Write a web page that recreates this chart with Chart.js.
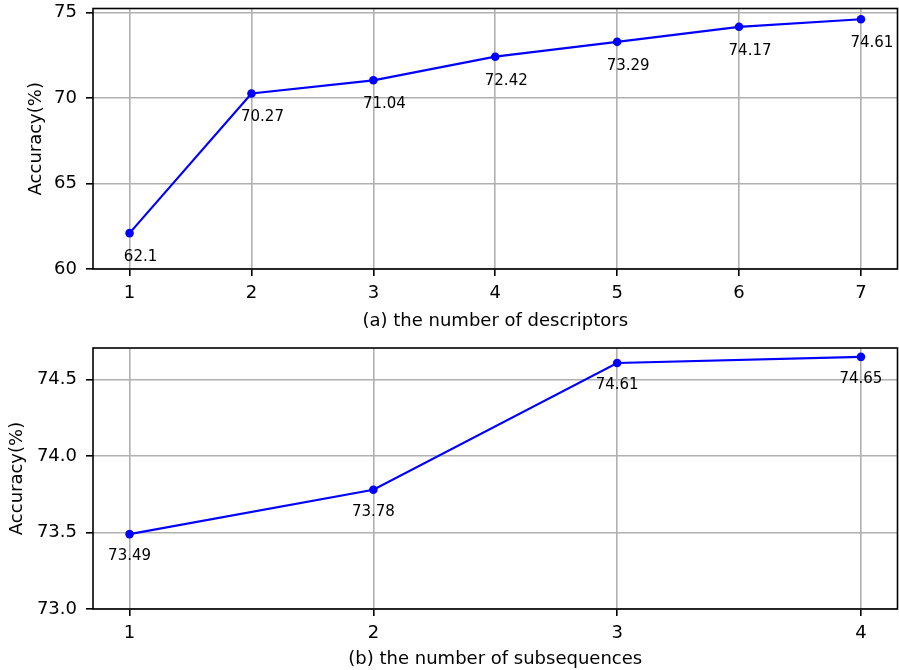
<!DOCTYPE html>
<html>
<head>
<meta charset="utf-8">
<script src="https://cdn.jsdelivr.net/npm/chart.js@4.4.1/dist/chart.umd.min.js"></script>
<style>
  html, body { margin: 0; padding: 0; background: #fff; }
  .box { position: absolute; left: 0; width: 899px; height: 335px; }
</style>
</head>
<body>
<div class="box" style="top:0"><canvas id="chart-desc" width="899" height="335"></canvas></div>
<div class="box" style="top:335px"><canvas id="chart-subseq" width="899" height="335"></canvas></div>
<script>
// (a) descriptors
const descX = [1, 2, 3, 4, 5, 6, 7];
const descAcc = [62.1, 70.27, 71.04, 72.42, 73.29, 74.17, 74.61];
const descYTicks = [60, 65, 70, 75];

// (b) subsequences
const subX = [1, 2, 3, 4];
const subAcc = [73.49, 73.78, 74.61, 74.65];
const subYTicks = [73.0, 73.5, 74.0, 74.5];

const FONT = 'DejaVu Sans';

// draws the full axes box like matplotlib
const boxPlugin = {
    id: 'box',
    afterDraw(chart) {
        const { ctx, chartArea: a } = chart;
        ctx.save();
        ctx.strokeStyle = '#000';
        ctx.lineWidth = 1.6;
        ctx.strokeRect(a.left, a.top, a.right - a.left, a.bottom - a.top);
        ctx.restore();
    }
};

// value labels under each point
const valueLabels = {
    id: 'valueLabels',
    afterDatasetsDraw(chart, args, opts) {
        const { ctx } = chart;
        const xs = chart.scales.x, ys = chart.scales.y;
        ctx.save();
        ctx.font = '15px "' + FONT + '"';
        ctx.fillStyle = '#000';
        ctx.textAlign = 'center';
        ctx.textBaseline = 'middle';
        chart.data.datasets[0].data.forEach(p => {
            const px = xs.getPixelForValue(p.x) + opts.dx;
            const py = ys.getPixelForValue(p.y) + opts.dy;
            ctx.fillText(String(p.y), px, py);
        });
        ctx.restore();
    }
};

function makeChart(id, xs, ys, xMin, xMax, yMin, yMax, yTicks, yFmt, title, areaTop, xAxisH, titlePad, yTitlePad, lblDx, lblDy) {
    new Chart(document.getElementById(id), {
        type: 'line',
        data: {
            datasets: [{
                data: xs.map((x, i) => ({ x: x, y: ys[i] })),
                borderColor: '#0000ff',
                backgroundColor: '#0000ff',
                borderWidth: 2.2,
                pointRadius: 4.3,
                pointHoverRadius: 4.3,
                pointBorderWidth: 0,
                tension: 0
            }]
        },
        options: {
            responsive: false,
            animation: false,
            devicePixelRatio: 1,
            layout: { autoPadding: false, padding: { top: areaTop, right: 1.5, left: 0, bottom: 0 } },
            plugins: {
                legend: { display: false },
                tooltip: { enabled: false },
                valueLabels: { dx: lblDx, dy: lblDy }
            },
            scales: {
                x: {
                    type: 'linear',
                    min: xMin, max: xMax,
                    afterBuildTicks: s => { s.ticks = xs.map(v => ({ value: v })); },
                    afterFit: s => { s.height = xAxisH; s.paddingLeft = 0; s.paddingRight = 0; },
                    grid: { color: '#b0b0b0', lineWidth: 1.6, tickColor: '#000', tickLength: 7, drawTicks: true },
                    border: { display: false },
                    ticks: { color: '#000', font: { family: FONT, size: 18 }, padding: 7, maxRotation: 0, callback: v => String(v) },
                    title: { display: true, text: title, color: '#000', font: { family: FONT, size: 18 }, padding: { top: 0, bottom: titlePad } }
                },
                y: {
                    min: yMin, max: yMax,
                    afterBuildTicks: s => { s.ticks = yTicks.map(v => ({ value: v })); },
                    afterFit: s => { s.width = 93; s.paddingTop = 0; s.paddingBottom = 0; },
                    grid: { color: '#b0b0b0', lineWidth: 1.6, tickColor: '#000', tickLength: 7, drawTicks: true },
                    border: { display: false },
                    ticks: { color: '#000', font: { family: FONT, size: 18 }, padding: 9, callback: yFmt },
                    title: { display: true, text: 'Accuracy(%)', color: '#000', font: { family: FONT, size: 18 }, padding: { top: yTitlePad, bottom: 0 } }
                }
            }
        },
        plugins: [boxPlugin, valueLabels]
    });
}

makeChart('chart-desc', descX, descAcc, 0.7, 7.3, 60, 75.24, descYTicks, v => String(v),
    '(a) the number of descriptors', 8.5, 66, 3, 26, 11, 24);
makeChart('chart-subseq', subX, subAcc, 0.85, 4.15, 73.0, 74.708, subYTicks, v => v.toFixed(1),
    '(b) the number of subsequences', 13, 61, 0, 7, 0, 22);
</script>
</body>
</html>
